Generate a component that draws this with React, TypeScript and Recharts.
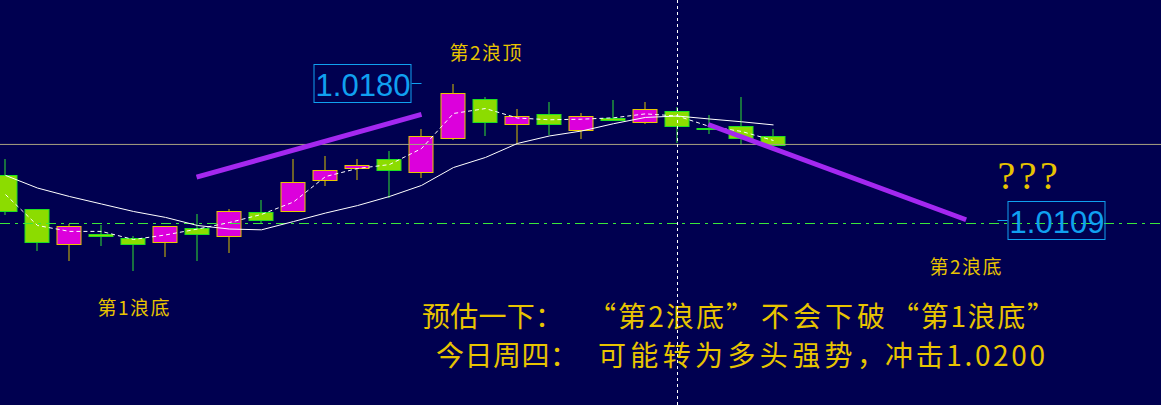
import { ComposedChart, Bar, Line, XAxis, YAxis, ReferenceLine, ReferenceDot } from "recharts"

// EUR/USD style daily candles
const opens = [
  1.01334, 1.01165, 1.00985, 1.01038, 1.01018, 1.00995, 1.01068, 1.01026, 1.01146, 1.01152,
  1.0131, 1.01371, 1.01418, 1.01352, 1.01523, 1.01722, 1.01596, 1.01646, 1.01563, 1.01626,
  1.01604, 1.01662, 1.01576, 1.01586, 1.01535,
]
const highs = [
  1.01418, 1.01165, 1.01089, 1.0108, 1.01029, 1.01078, 1.01136, 1.01165, 1.01207, 1.01418,
  1.0143, 1.01418, 1.0146, 1.01567, 1.018, 1.01734, 1.01672, 1.01704, 1.01651, 1.01714,
  1.01704, 1.0168, 1.01638, 1.01734, 1.01567,
]
const lows = [
  1.01131, 1.0095, 1.00899, 1.00975, 1.00848, 1.00919, 1.00899, 1.0094, 1.01089, 1.01152,
  1.01279, 1.0131, 1.01219, 1.01322, 1.01511, 1.01533, 1.01491, 1.01541, 1.01521, 1.01614,
  1.01596, 1.01497, 1.01545, 1.01489, 1.01489,
]
const closes = [
  1.01152, 1.00995, 1.01078, 1.01026, 1.00985, 1.01078, 1.01036, 1.01155, 1.0111, 1.01302,
  1.01362, 1.01388, 1.01361, 1.01535, 1.01753, 1.01604, 1.01636, 1.01596, 1.01636, 1.01614,
  1.01672, 1.01584, 1.01574, 1.01523, 1.01489,
]
// short moving average (dashed)
const maFast = [
  1.01237, 1.0108, 1.0105, 1.0105, 1.01009, 1.01032, 1.01062, 1.01095, 1.01136, 1.01199,
  1.01328, 1.01369, 1.01389, 1.0147, 1.01648, 1.01673, 1.01625, 1.01616, 1.01619, 1.01626,
  1.01646, 1.01635, 1.01582, 1.01557, 1.01511,
]
// long moving average (solid)
const maSlow = [
  1.01334, 1.0127, 1.01227, 1.01189, 1.01151, 1.01121, 1.0108, 1.01062, 1.01058, 1.011,
  1.01143, 1.01181, 1.01227, 1.01283, 1.01374, 1.01425, 1.01496, 1.01534, 1.01559, 1.01596,
  1.01628, 1.01635, 1.0162, 1.01606, 1.0159,
]

const waveTop = 1.018
const waveBottomGuess = 1.0109
const pivotLevel = 1.01491
const upTrend = [
  { x: 5.97, y: 1.01325 },
  { x: 13.0, y: 1.01643 },
]
const downTrend = [
  { x: 21.96, y: 1.01592 },
  { x: 30.02, y: 1.01109 },
]

const data = opens.map((open, i) => ({
  i,
  open,
  high: highs[i],
  low: lows[i],
  close: closes[i],
  maFast: maFast[i],
  maSlow: maSlow[i],
}))

const BG = "#000050"
const YELLOW = "#e8c400"
const BLUE = "#10a0f0"
const CJK = "'Noto Sans CJK SC', sans-serif"

function Candle(props: any) {
  const { x, y, width, height, payload } = props
  const { open, close, high, low } = payload
  const up = close > open
  const ratio = height / (high - low)
  const cx = x + width / 2
  const yOpen = y + (high - open) * ratio
  const yClose = y + (high - close) * ratio
  const top = Math.round(Math.min(yOpen, yClose)) + 0.5
  const bottom = Math.round(Math.max(yOpen, yClose)) + 0.5
  const wick = up ? "#d8c000" : "#30e030"
  return (
    <g>
      <line x1={cx} x2={cx} y1={Math.round(y)} y2={Math.round(y + height)} stroke={wick} strokeWidth={1} />
      <rect
        x={cx - 12}
        y={top}
        width={24}
        height={Math.max(bottom - top, 1)}
        fill={up ? "#dc00dc" : "#8cdc00"}
        stroke={up ? "#e8c800" : "#20e020"}
        strokeWidth={1}
      />
    </g>
  )
}

function PriceTag({ cx, cy, text, left }: any) {
  const mid = Math.floor(cy) + 0.5
  const boxX = left ? cx - 107.5 : cx + 10.5
  return (
    <g>
      <line x1={left ? cx - 10 : cx} x2={left ? cx : cx + 10} y1={mid} y2={mid} stroke={BLUE} />
      <rect x={boxX} y={mid - 19} width={97} height={38} fill="none" stroke={BLUE} />
      <text
        x={boxX + 49}
        y={mid + 12}
        textAnchor="middle"
        fill={BLUE}
        fontFamily="'Liberation Sans', Arial, sans-serif"
        fontSize={31}
      >
        {text}
      </text>
    </g>
  )
}

function WaveLabel({ cx, cy, text }: any) {
  return (
    <text
      x={cx - 36}
      y={cy + 7}
      fill={YELLOW}
      fontFamily={CJK}
      fontSize={19}
      textLength={72}
      lengthAdjust="spacing"
    >
      {text}
    </text>
  )
}

export default function App() {
  return (
    <div style={{ position: "absolute", left: 0, top: 0, width: 1161, height: 405, background: BG }}>
      <ComposedChart width={1161} height={405} data={data} margin={{ top: 0, right: 0, bottom: 0, left: 0 }}>
        <XAxis dataKey="i" type="number" domain={[-0.171875, 36.109375]} allowDataOverflow hide />
        <YAxis type="number" domain={[1.0016968, 1.0222343]} allowDataOverflow hide />

        <ReferenceLine y={pivotLevel} stroke="#a8a280" strokeWidth={1} />
        <ReferenceLine y={waveBottomGuess} stroke="#3ae83a" strokeWidth={1} strokeDasharray="10 5 3 5" />
        <ReferenceLine x={21} stroke="#ffffff" strokeWidth={1} strokeDasharray="3 3" />

        <Bar
          dataKey={(d: any) => [d.low, d.high]}
          barSize={25}
          shape={<Candle />}
          activeBar={false}
          isAnimationActive={false}
        />
        <Line
          dataKey="maSlow"
          type="linear"
          stroke="#ffffff"
          strokeWidth={1}
          dot={false}
          activeDot={false}
          isAnimationActive={false}
        />
        <Line
          dataKey="maFast"
          type="linear"
          stroke="#ffffff"
          strokeWidth={1}
          strokeDasharray="4 3"
          dot={false}
          activeDot={false}
          isAnimationActive={false}
        />

        <ReferenceLine segment={upTrend} stroke="#a428f0" strokeWidth={5} />
        <ReferenceLine segment={downTrend} stroke="#a428f0" strokeWidth={5} />

        <ReferenceDot x={13} y={waveTop} r={0} shape={(p: any) => <PriceTag {...p} text="1.0180" left />} />
        <ReferenceDot x={31} y={1.01105} r={0} shape={(p: any) => <PriceTag {...p} text="1.0109" />} />

        <ReferenceDot x={15} y={1.01957} r={0} shape={(p: any) => <WaveLabel {...p} text="第2浪顶" />} />
        <ReferenceDot x={4} y={1.00664} r={0} shape={(p: any) => <WaveLabel {...p} text="第1浪底" />} />
        <ReferenceDot x={30} y={1.00867} r={0} shape={(p: any) => <WaveLabel {...p} text="第2浪底" />} />
        <ReferenceDot
          x={32}
          y={1.01334}
          r={0}
          shape={(p: any) => (
            <text
              x={p.cx}
              y={p.cy + 14}
              textAnchor="middle"
              fill={YELLOW}
              fontFamily="'Liberation Serif', serif"
              fontSize={40}
              letterSpacing={3.5}
            >
              ???
            </text>
          )}
        />

        <g fill={YELLOW} fontFamily={CJK} fontSize={28}>
          <text x={422} y={327} textLength={141} lengthAdjust="spacing">预估一下：</text>
          <text x={588} y={327} textLength={166} lengthAdjust="spacing">“第2浪底”</text>
          <text x={761} y={327} textLength={124} lengthAdjust="spacing">不会下破</text>
          <text x={891} y={327} textLength={164} lengthAdjust="spacing">“第1浪底”</text>
          <text x={436} y={366} textLength={142} lengthAdjust="spacing">今日周四：</text>
          <text x={598} y={366} textLength={287} lengthAdjust="spacing">可能转为多头强势，</text>
          <text x={885} y={366} textLength={160} lengthAdjust="spacing">冲击1.0200</text>
        </g>
      </ComposedChart>
    </div>
  )
}
